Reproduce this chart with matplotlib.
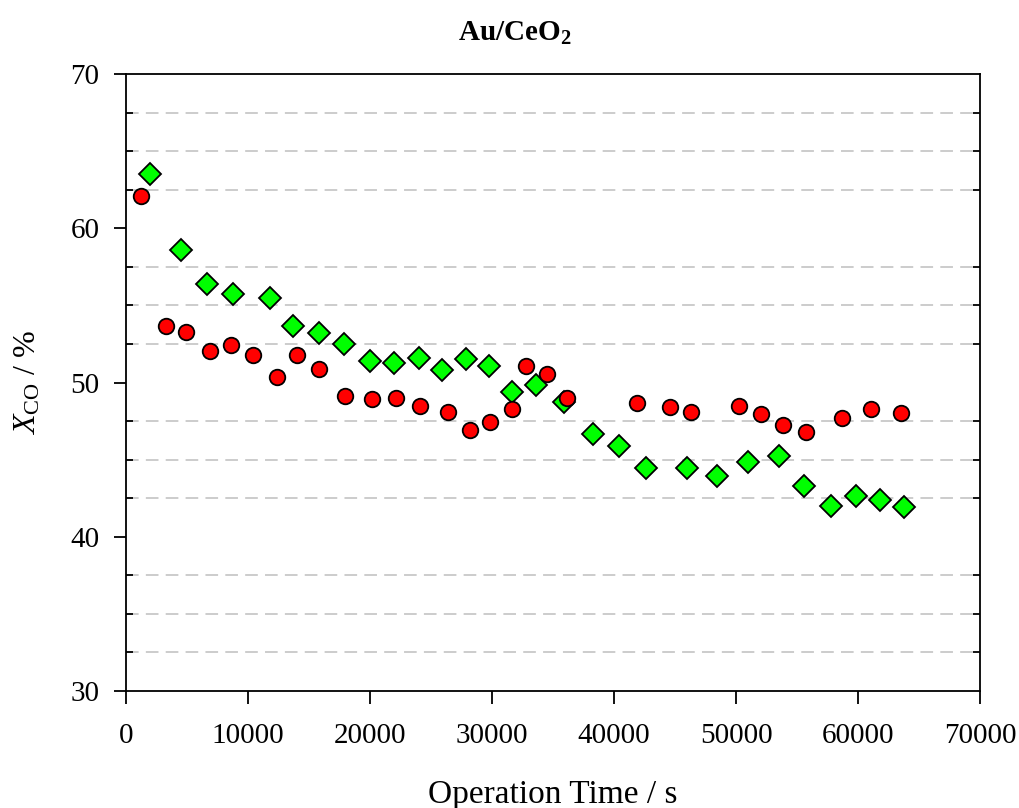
import numpy as np
import matplotlib.pyplot as plt
from matplotlib.ticker import MultipleLocator

plt.rcParams['font.family'] = ['Liberation Serif', 'DejaVu Serif']
plt.rcParams['mathtext.fontset'] = 'custom'
plt.rcParams['mathtext.rm'] = 'Liberation Serif'
plt.rcParams['mathtext.it'] = 'Liberation Serif:italic'
plt.rcParams['mathtext.bf'] = 'Liberation Serif:bold'

# conversion over time, two runs on the same catalyst
time_red = [1230, 3280, 4920, 6890, 8600, 10410, 12380, 14020, 15820, 17950,
            20160, 22130, 24100, 26390, 28200, 29840, 31640, 32790, 34510, 36150,
            41890, 44590, 46310, 50250, 52050, 53850, 55740, 58690, 61070, 63520]
xco_red = [62.09, 53.66, 53.27, 52.04, 52.43, 51.78, 50.36, 51.78, 50.87, 49.12,
           48.93, 48.99, 48.48, 48.09, 46.92, 47.44, 48.28, 51.07, 50.55, 48.99,
           48.67, 48.41, 48.09, 48.48, 47.96, 47.24, 46.79, 47.70, 48.28, 48.02]

time_green = [1970, 4510, 6640, 8770, 11800, 13690, 15820, 17870, 20000, 21970,
              24020, 25900, 27870, 29750, 31640, 33610, 35900, 38280, 40410, 42620,
              45980, 48440, 50980, 53520, 55570, 57790, 59840, 61800, 63770]
xco_green = [63.52, 58.59, 56.39, 55.74, 55.48, 53.66, 53.21, 52.50, 51.39, 51.26,
             51.59, 50.81, 51.52, 51.07, 49.38, 49.84, 48.74, 46.66, 45.88, 44.46,
             44.46, 43.94, 44.85, 45.24, 43.29, 41.99, 42.64, 42.38, 41.93]

fig = plt.figure(figsize=(10.2, 8.08), dpi=100)
ax = fig.add_axes([0.1235, 0.1448, 0.8373, 0.7636])

ax.plot(time_green, xco_green, ls='none', marker='D', ms=11.2, mfc='#00ff00',
        mec='black', mew=1.3, zorder=3)
ax.plot(time_red, xco_red, ls='none', marker='o', ms=11.2, mfc='#ff0000',
        mec='black', mew=1.3, zorder=3)

ax.set_xlim(0, 70000)
ax.set_ylim(30, 70)
ax.xaxis.set_major_locator(MultipleLocator(10000))
ax.yaxis.set_major_locator(MultipleLocator(10))
ax.yaxis.set_minor_locator(MultipleLocator(2.5))

# dashed grid only on the minor y positions
ax.grid(False)
ax.grid(which='minor', axis='y', color='#c8c8c8', ls=(0, (7, 4)), lw=1.3)

ax.tick_params(axis='both', which='major', direction='out', length=9, width=1.3,
               labelsize=21, top=False, right=False)
ax.tick_params(axis='x', which='major', pad=14)
ax.tick_params(axis='y', which='major', pad=10)
ax.tick_params(axis='y', which='minor', direction='in', length=5, width=1.3,
               left=True, right=True)
ax.tick_params(axis='x', which='minor', bottom=False)
for s in ax.spines.values():
    s.set_linewidth(1.3)

ax.set_xlabel('Operation Time / s', fontsize=24, labelpad=22)
ax.set_ylabel(r'$\mathit{X}_{\mathrm{CO}}$ / %', fontsize=23, labelpad=20)
fig.text(0.505, 0.959, r'Au/CeO$_\mathbf{2}$', ha='center', va='center',
         fontsize=21, fontweight='bold')

fig.savefig('out.png', dpi=100)
